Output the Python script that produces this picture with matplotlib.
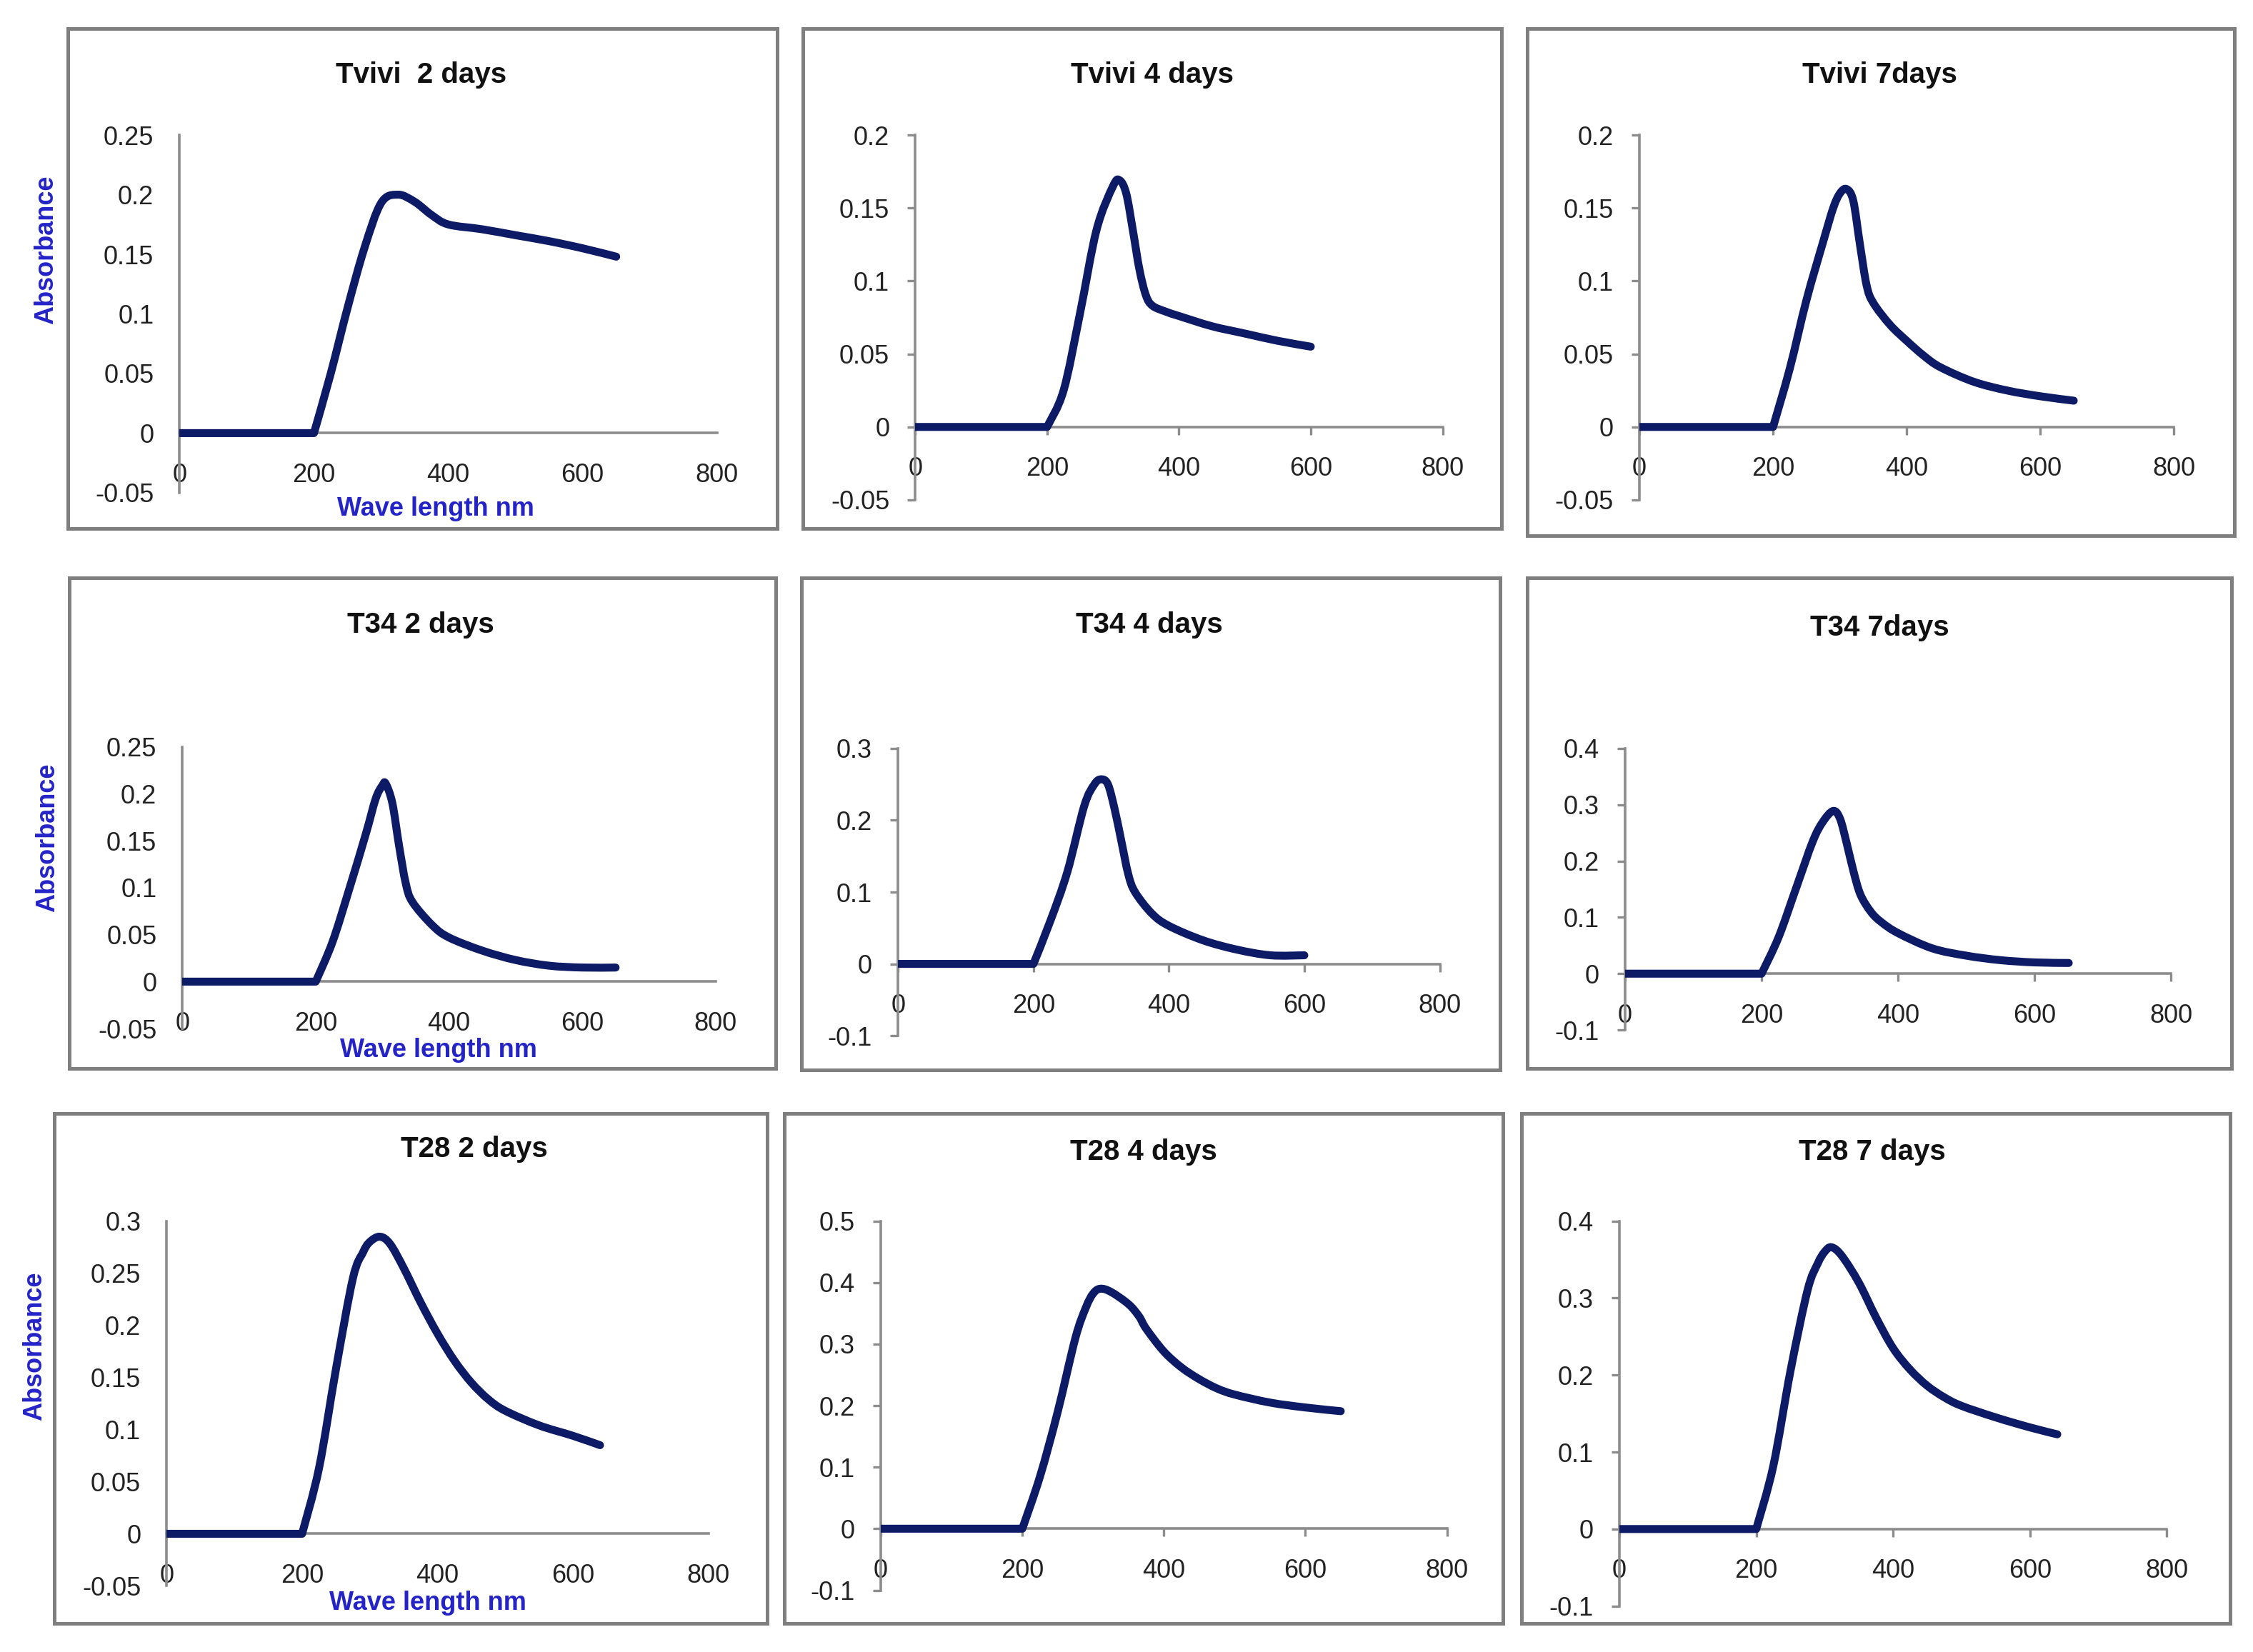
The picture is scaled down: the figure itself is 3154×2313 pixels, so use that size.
import matplotlib
matplotlib.use("Agg")
import matplotlib.pyplot as plt
from matplotlib.patches import Rectangle, PathPatch
from matplotlib.path import Path
import numpy as np

plt.rcParams["font.family"] = ["Liberation Sans", "DejaVu Sans"]

# reference layout grid (pixels of a 1568 x 1150 view)
W, H = 1568, 1150

titles = ["Tvivi  2 days", "Tvivi 4 days", "Tvivi 7days",
          "T34 2 days", "T34 4 days", "T34 7days",
          "T28 2 days", "T28 4 days", "T28 7 days"]

x_ticks = [0, 200, 400, 600, 800]

# Tvivi
tvivi_2d_x = [0, 100, 200, 225, 250, 275, 300, 325, 350, 375, 400, 450, 500, 550, 600, 650]
tvivi_2d_y = [0, 0, 0, 0.05, 0.105, 0.155, 0.193, 0.2, 0.194, 0.183, 0.175, 0.171, 0.166, 0.161, 0.155, 0.148]
tvivi_4d_x = [0, 100, 200, 225, 250, 275, 300, 310, 320, 330, 340, 350, 360, 380, 400, 450, 500, 550, 600]
tvivi_4d_y = [0, 0, 0, 0.025, 0.078, 0.135, 0.165, 0.169, 0.16, 0.135, 0.108, 0.09, 0.083, 0.079, 0.076, 0.069, 0.064, 0.059, 0.055]
tvivi_7d_x = [0, 100, 200, 225, 250, 275, 290, 300, 310, 320, 330, 340, 350, 375, 400, 425, 450, 500, 550, 600, 650]
tvivi_7d_y = [0, 0, 0, 0.04, 0.087, 0.127, 0.15, 0.16, 0.163, 0.155, 0.125, 0.097, 0.085, 0.07, 0.059, 0.049, 0.041, 0.031, 0.025, 0.021, 0.018]

# T34
t34_2d_x = [0, 100, 200, 225, 250, 275, 290, 300, 305, 315, 325, 335, 345, 375, 400, 450, 500, 550, 600, 650]
t34_2d_y = [0, 0, 0, 0.042, 0.098, 0.157, 0.195, 0.209, 0.211, 0.19, 0.145, 0.105, 0.085, 0.06, 0.047, 0.033, 0.023, 0.017, 0.015, 0.015]
t34_4d_x = [0, 100, 200, 225, 250, 275, 290, 300, 310, 320, 330, 340, 350, 375, 400, 450, 500, 550, 600]
t34_4d_y = [0, 0, 0, 0.06, 0.128, 0.22, 0.25, 0.257, 0.25, 0.215, 0.17, 0.125, 0.1, 0.07, 0.053, 0.033, 0.02, 0.012, 0.012]
t34_7d_x = [0, 100, 200, 225, 250, 275, 290, 305, 315, 325, 335, 345, 360, 375, 400, 450, 500, 550, 600, 650]
t34_7d_y = [0, 0, 0, 0.065, 0.15, 0.235, 0.27, 0.289, 0.275, 0.23, 0.18, 0.14, 0.11, 0.092, 0.072, 0.045, 0.032, 0.024, 0.02, 0.019]

# T28
t28_2d_x = [0, 100, 200, 225, 250, 275, 290, 300, 315, 330, 350, 375, 400, 425, 450, 475, 500, 550, 600, 640]
t28_2d_y = [0, 0, 0, 0.063, 0.158, 0.245, 0.27, 0.28, 0.285, 0.278, 0.255, 0.222, 0.192, 0.166, 0.145, 0.129, 0.118, 0.104, 0.094, 0.085]
t28_4d_x = [0, 100, 200, 225, 250, 275, 290, 300, 310, 325, 350, 365, 375, 400, 425, 450, 475, 500, 550, 600, 650]
t28_4d_y = [0, 0, 0, 0.085, 0.19, 0.31, 0.36, 0.382, 0.39, 0.385, 0.365, 0.345, 0.325, 0.288, 0.262, 0.243, 0.228, 0.218, 0.205, 0.197, 0.191]
t28_7d_x = [0, 100, 200, 225, 250, 275, 290, 300, 310, 325, 350, 375, 400, 425, 450, 475, 500, 550, 600, 640]
t28_7d_y = [0, 0, 0, 0.082, 0.205, 0.31, 0.345, 0.36, 0.366, 0.355, 0.32, 0.275, 0.235, 0.207, 0.186, 0.171, 0.16, 0.145, 0.132, 0.123]

y_ticks = [[-0.05, 0, 0.05, 0.1, 0.15, 0.2, 0.25],
           [-0.05, 0, 0.05, 0.1, 0.15, 0.2],
           [-0.05, 0, 0.05, 0.1, 0.15, 0.2],
           [-0.05, 0, 0.05, 0.1, 0.15, 0.2, 0.25],
           [-0.1, 0, 0.1, 0.2, 0.3],
           [-0.1, 0, 0.1, 0.2, 0.3, 0.4],
           [-0.05, 0, 0.05, 0.1, 0.15, 0.2, 0.25, 0.3],
           [-0.1, 0, 0.1, 0.2, 0.3, 0.4, 0.5],
           [-0.1, 0, 0.1, 0.2, 0.3, 0.4]]

series = [(tvivi_2d_x, tvivi_2d_y), (tvivi_4d_x, tvivi_4d_y), (tvivi_7d_x, tvivi_7d_y),
          (t34_2d_x, t34_2d_y), (t34_4d_x, t34_4d_y), (t34_7d_x, t34_7d_y),
          (t28_2d_x, t28_2d_y), (t28_4d_x, t28_4d_y), (t28_7d_x, t28_7d_y)]

# plot area: y-axis x, x=800 x, top y, bottom y
axes_px = [(125, 499, 94, 343), (637, 1004, 94, 348), (1141, 1513, 94, 348),
           (127, 498, 520, 716), (625, 1002, 521, 721), (1131, 1511, 521, 717),
           (116, 493, 850, 1104), (613, 1007, 850, 1107), (1127, 1508, 850, 1118)]
# outer frames: left, right, top, bottom
boxes_px = [(47, 541, 20, 368), (559, 1045, 20, 368), (1063, 1555, 20, 373),
            (48, 540, 402, 744), (558, 1044, 402, 745), (1063, 1553, 402, 744),
            (38, 534, 775, 1130), (546, 1046, 775, 1130), (1059, 1552, 775, 1130)]
title_px = [(293, 52), (802, 52), (1308, 52), (293, 435), (800, 435), (1308, 437),
            (330, 800), (796, 802), (1303, 802)]
ylabel_px = {0: (32, 174), 3: (33, 583), 6: (24, 937)}
xlabel_px = {0: (303, 354), 3: (305, 731), 6: (298, 1116)}

line_color = "#0d1a66"
axis_color = "#8c8c8c"
label_blue = "#2323c8"


def smooth_path(ax, x, y):
    # flat baseline drawn straight, the band itself as an Excel-style smoothed line
    pts = ax.transData.transform(np.column_stack([x, y]))
    start = 0
    while start + 1 < len(y) and y[start + 1] == 0:
        start += 1
    verts = [pts[0], pts[start]]
    codes = [Path.MOVETO, Path.LINETO]
    band = pts[start:]
    n = len(band)
    for k in range(n - 1):
        p0 = band[max(k - 1, 0)]
        p1 = band[k]
        p2 = band[k + 1]
        p3 = band[min(k + 2, n - 1)]
        verts += [p1 + (p2 - p0) / 6, p2 - (p3 - p1) / 6, p2]
        codes += [Path.CURVE4] * 3
    verts = ax.transData.inverted().transform(np.array(verts))
    return Path(verts, codes)


fig = plt.figure(figsize=(15.77, 11.565), dpi=200)

for i, (x, y) in enumerate(series):
    bl, br, bt, bb = boxes_px[i]
    fig.add_artist(Rectangle((bl / W, 1 - bb / H), (br - bl) / W, (bb - bt) / H,
                             transform=fig.transFigure, fill=False,
                             ec="#7f7f7f", lw=1.8, zorder=0))

    l, r, t, b = axes_px[i]
    ax = fig.add_axes([l / W, 1 - b / H, (r - l) / W, (b - t) / H])
    ax.patch.set_alpha(0)
    ax.set_xlim(0, 800)
    ax.set_ylim(y_ticks[i][0], y_ticks[i][-1])
    ax.set_xticks(x_ticks)
    ax.set_yticks(y_ticks[i])
    ax.set_yticklabels([f"{round(v, 2):g}" for v in y_ticks[i]])

    ax.add_patch(PathPatch(smooth_path(ax, x, y), fill=False, ec=line_color, lw=4.0,
                           capstyle="round", joinstyle="round", zorder=3))

    for s in ["top", "right"]:
        ax.spines[s].set_visible(False)
    ax.spines["bottom"].set_position(("data", 0))
    for s in ["left", "bottom"]:
        ax.spines[s].set_color(axis_color)
        ax.spines[s].set_linewidth(1.3)

    if i % 3 == 0:
        ax.tick_params(axis="x", length=0, pad=15, labelsize=13, labelcolor="#222222")
        ax.tick_params(axis="y", length=0, pad=13, labelsize=13, labelcolor="#222222")
    else:
        ax.tick_params(axis="x", direction="out", length=4, width=1.2, color=axis_color,
                       pad=11, labelsize=13, labelcolor="#222222")
        ax.tick_params(axis="y", direction="out", length=4, width=1.2, color=axis_color,
                       pad=9, labelsize=13, labelcolor="#222222")

    tx, ty = title_px[i]
    fig.text(tx / W, 1 - ty / H, titles[i], ha="center", va="center",
             fontsize=14.5, fontweight="bold", color="#111111")

for i, (px, py) in ylabel_px.items():
    fig.text(px / W, 1 - py / H, "Absorbance", rotation=90, ha="center", va="center",
             fontsize=13, fontweight="bold", color=label_blue)
for i, (px, py) in xlabel_px.items():
    fig.text(px / W, 1 - py / H, "Wave length nm", ha="center", va="center",
             fontsize=13, fontweight="bold", color=label_blue)

fig.savefig("out.png", dpi=200, facecolor="white")
